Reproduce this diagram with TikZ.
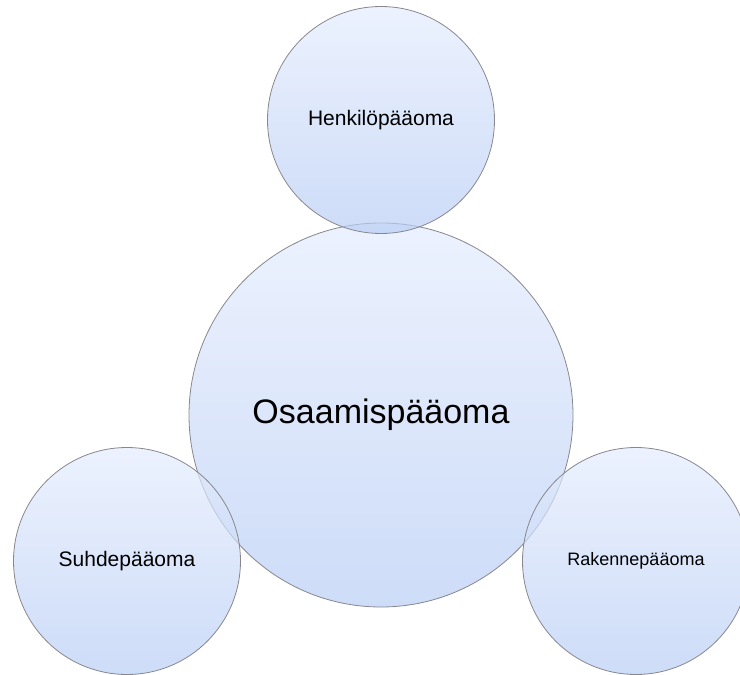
\documentclass[tikz,border=0pt]{standalone}
\usepackage{fontspec}
\setmainfont{Liberation Sans}
\usepackage{xcolor}
\usetikzlibrary{positioning}

\definecolor{pallotop}{RGB}{228,236,253}
\definecolor{pallobot}{RGB}{184,205,245}
\definecolor{reuna}{RGB}{135,135,140}

\begin{document}
\begin{tikzpicture}[x=1pt,y=-1pt,
  pallo/.style={circle,draw=reuna,line width=0.8pt,top color=pallotop,bottom color=pallobot,
    fill opacity=0.7,text opacity=1,inner sep=0pt},
  iso/.style={pallo,minimum size=384pt,font=\fontsize{34}{40}\selectfont},
  pieni/.style={pallo,minimum size=227pt,font=\fontsize{21}{25}\selectfont}]
\useasboundingbox (0,0) rectangle (740,675);
\clip (0,0) rectangle (740,675);
\node[iso] (osaamis) at (381,415) {Osaamispääoma};
\node[pieni] (henkilo) at (381,120) {Henkilöpääoma};
\node[pieni] (suhde) at (127,561) {Suhdepääoma};
\node[pieni,font=\fontsize{18}{22}\selectfont] (rakenne) at (636,561) {Rakennepääoma};
\end{tikzpicture}
\end{document}
